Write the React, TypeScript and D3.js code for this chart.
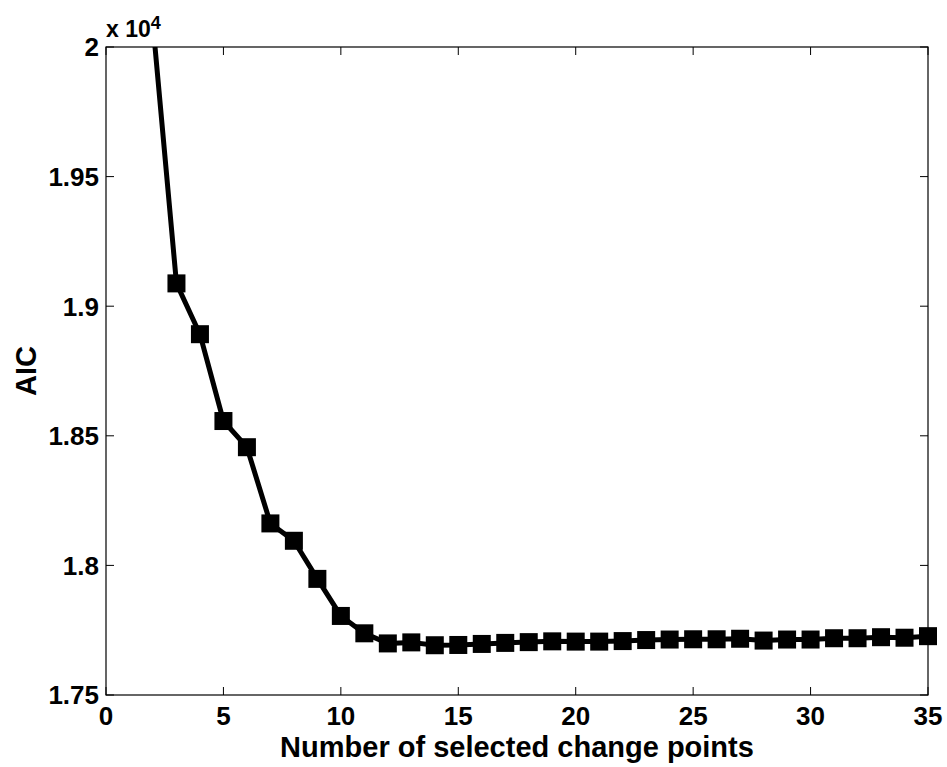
import React from "react";
import * as d3 from "d3";

const changePoints: number[] = [
  1, 2, 3, 4, 5, 6, 7, 8, 9, 10, 11, 12, 13, 14, 15, 16, 17, 18, 19, 20, 21, 22,
  23, 24, 25, 26, 27, 28, 29, 30, 31, 32, 33, 34, 35,
];
const aicValues: number[] = [
  20600, 20087, 19088, 18892, 18557, 18456, 18162, 18095, 17948, 17805, 17738,
  17699, 17703, 17692, 17693, 17697, 17701, 17704, 17707, 17706, 17706, 17708,
  17712, 17714, 17715, 17715, 17717, 17710, 17714, 17714, 17719, 17719, 17723,
  17721, 17727,
];
const xTicks: number[] = [0, 5, 10, 15, 20, 25, 30, 35];
const yTicks: number[] = [17500, 18000, 18500, 19000, 19500, 20000];
const yTickLabels: string[] = ["1.75", "1.8", "1.85", "1.9", "1.95", "2"];

const W = 947;
const H = 767;
const L = 106;
const R = 928;
const T = 47;
const B = 695;
const FONT = "'Liberation Sans', Arial, Helvetica, sans-serif";

export default function App() {
  const x = d3.scaleLinear().domain([0, 35]).range([L, R]);
  const y = d3.scaleLinear().domain([17500, 20000]).range([B, T]);
  const pts = changePoints.map((c, i) => ({ c, v: aicValues[i] }));
  const line = d3
    .line<{ c: number; v: number }>()
    .x((d) => x(d.c))
    .y((d) => y(d.v));
  const tickLen = 8;
  const ms = 18;

  return (
    <svg
      width={W}
      height={H}
      style={{ position: "absolute", left: 0, top: 0, background: "#fff" }}
      fontFamily={FONT}
      fontWeight="bold"
    >
      <defs>
        <clipPath id="plotClip">
          <rect x={L} y={T} width={R - L} height={B - T} />
        </clipPath>
      </defs>
      <rect x={0} y={0} width={W} height={H} fill="#fff" />

      {/* ticks */}
      {xTicks.map((t) => (
        <g key={"xt" + t}>
          <line x1={x(t)} x2={x(t)} y1={B} y2={B - tickLen} stroke="#000" strokeWidth={1} />
          <line x1={x(t)} x2={x(t)} y1={T} y2={T + tickLen} stroke="#000" strokeWidth={1} />
          <text x={x(t)} y={725} fontSize={26} textAnchor="middle" fill="#000">
            {t}
          </text>
        </g>
      ))}
      {yTicks.map((t, i) => (
        <g key={"yt" + t}>
          <line x1={L} x2={L + tickLen} y1={y(t)} y2={y(t)} stroke="#000" strokeWidth={1} />
          <line x1={R} x2={R - tickLen} y1={y(t)} y2={y(t)} stroke="#000" strokeWidth={1} />
          <text
            x={L - 7}
            y={y(t)}
            dy="0.36em"
            fontSize={26}
            textAnchor="end"
            fill="#000"
          >
            {yTickLabels[i]}
          </text>
        </g>
      ))}

      {/* axes box */}
      <rect x={L} y={T} width={R - L} height={B - T} fill="none" stroke="#000" strokeWidth={1.2} />

      {/* line */}
      <path
        d={line(pts) || ""}
        fill="none"
        stroke="#000"
        strokeWidth={5}
        strokeLinejoin="round"
        clipPath="url(#plotClip)"
      />
      {/* markers */}
      {pts
        .filter((d) => d.v <= 20000 && d.v >= 17500)
        .map((d) => (
          <rect
            key={"m" + d.c}
            x={x(d.c) - ms / 2}
            y={y(d.v) - ms / 2}
            width={ms}
            height={ms}
            fill="#000"
          />
        ))}

      {/* exponent */}
      <text x={L} y={37} fontSize={23} fill="#000">
        x 10
        <tspan fontSize={18} dy={-8}>
          4
        </tspan>
      </text>

      {/* axis titles */}
      <text x={(L + R) / 2} y={757} fontSize={29} textAnchor="middle" fill="#000">
        Number of selected change points
      </text>
      <text
        transform={`translate(36, ${(T + B) / 2}) rotate(-90)`}
        fontSize={29}
        textAnchor="middle"
        fill="#000"
      >
        AIC
      </text>
    </svg>
  );
}
